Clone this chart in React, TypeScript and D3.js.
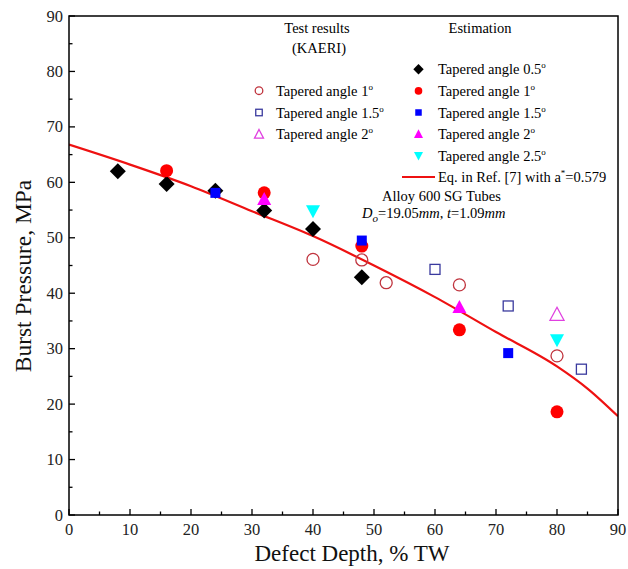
import React from "react";
import * as d3 from "d3";

// ---- Data ----
const xTicks = [0, 10, 20, 30, 40, 50, 60, 70, 80, 90];
const yTicks = [0, 10, 20, 30, 40, 50, 60, 70, 80, 90];

// Estimation (filled)
const estAngle05 = [[8, 62], [16, 59.7], [24, 58.5], [32, 54.9], [40, 51.6], [48, 42.9]];
const estAngle1 = [[16, 62.1], [32, 58.1], [48, 48.5], [64, 33.4], [80, 18.6]];
const estAngle15 = [[24, 58.1], [48, 49.5], [72, 29.2]];
const estAngle2 = [[32, 57], [64, 37.5]];
const estAngle25 = [[40, 54.8], [80, 31.5]];

// Test results (open)
const testAngle1 = [[40, 46.1], [48, 46], [52, 41.9], [64, 41.5], [80, 28.7]];
const testAngle15 = [[60, 44.3], [72, 37.7], [84, 26.3]];
const testAngle2 = [[80, 36.2]];

// Eq. in Ref. [7] curve
const curve = [[0, 66.8], [10, 63.2], [20, 59.3], [30, 54.8], [40, 50.3], [50, 45], [60, 39.3], [70, 33], [80, 26.8], [85, 22.8], [90, 17.8]];

const W = 628, H = 569;
const x = d3.scaleLinear().domain([0, 90]).range([69, 618]);
const y = d3.scaleLinear().domain([0, 90]).range([515, 16]);
const FONT = "'Liberation Serif', 'Times New Roman', serif";

type Kind = "diamond" | "circle" | "square" | "tri" | "triDown";
function marker(kind: Kind, cx: number, cy: number, fill: string, stroke: string, key: string, small = false) {
  const open = fill === "none";
  const sw = open ? 1.3 : 0;
  if (kind === "circle") {
    const r = small ? 3.8 : open ? 6 : 6.5;
    return <circle key={key} cx={cx} cy={cy} r={r} fill={fill} stroke={stroke} strokeWidth={sw} />;
  }
  if (kind === "square") {
    const s = small ? 6.5 : 10;
    return <rect key={key} x={cx - s / 2} y={cy - s / 2} width={s} height={s} fill={fill} stroke={stroke} strokeWidth={sw} />;
  }
  if (kind === "diamond") {
    const h = small ? 5.2 : 8;
    return <path key={key} d={`M${cx},${cy - h}L${cx + h},${cy}L${cx},${cy + h}L${cx - h},${cy}Z`} fill={fill} />;
  }
  const hw = small ? 4.5 : 7;
  const hh = small ? 3.8 : 6;
  if (kind === "tri") {
    return <path key={key} d={`M${cx},${cy - hh - 1}L${cx + hw},${cy + hh}L${cx - hw},${cy + hh}Z`} fill={fill} stroke={stroke} strokeWidth={sw} />;
  }
  return <path key={key} d={`M${cx},${cy + hh + 1}L${cx + hw},${cy - hh}L${cx - hw},${cy - hh}Z`} fill={fill} stroke={stroke} strokeWidth={sw} />;
}

const OPEN_CIRCLE = "#c0343e";
const OPEN_SQUARE = "#3a3a9e";
const OPEN_TRI = "#e040e0";

const series: { data: number[][]; kind: Kind; fill: string; stroke: string }[] = [
  { data: testAngle1, kind: "circle", fill: "none", stroke: OPEN_CIRCLE },
  { data: testAngle15, kind: "square", fill: "none", stroke: OPEN_SQUARE },
  { data: testAngle2, kind: "tri", fill: "none", stroke: OPEN_TRI },
  { data: estAngle05, kind: "diamond", fill: "#000", stroke: "none" },
  { data: estAngle1, kind: "circle", fill: "#ff0000", stroke: "none" },
  { data: estAngle15, kind: "square", fill: "#0000ff", stroke: "none" },
  { data: estAngle2, kind: "tri", fill: "#ff00ff", stroke: "none" },
  { data: estAngle25, kind: "triDown", fill: "#00ffff", stroke: "none" },
];

const testLegend: { label: string; kind: Kind; fill: string; stroke: string }[] = [
  { label: "1", kind: "circle", fill: "none", stroke: OPEN_CIRCLE },
  { label: "1.5", kind: "square", fill: "none", stroke: OPEN_SQUARE },
  { label: "2", kind: "tri", fill: "none", stroke: OPEN_TRI },
];
const estLegend: { label: string; kind: Kind; fill: string; stroke: string }[] = [
  { label: "0.5", kind: "diamond", fill: "#000", stroke: "none" },
  { label: "1", kind: "circle", fill: "#ff0000", stroke: "none" },
  { label: "1.5", kind: "square", fill: "#0000ff", stroke: "none" },
  { label: "2", kind: "tri", fill: "#ff00ff", stroke: "none" },
  { label: "2.5", kind: "triDown", fill: "#00ffff", stroke: "none" },
];

export default function App() {
  const line = d3.line<number[]>().x(d => x(d[0])).y(d => y(d[1])).curve(d3.curveMonotoneX);
  const minorX = d3.range(5, 90, 10);
  const minorY = d3.range(5, 90, 10);
  const LF = 14.5;
  return (
    <svg width={W} height={H} style={{ position: "absolute", left: 0, top: 0, background: "#fff" }} fontFamily={FONT}>
      <rect x={0} y={0} width={W} height={H} fill="#fff" />
      <defs>
        <clipPath id="plot"><rect x={x(0)} y={y(90)} width={x(90) - x(0)} height={y(0) - y(90)} /></clipPath>
      </defs>
      <path d={line(curve) || ""} fill="none" stroke="#ee1111" strokeWidth={2.2} clipPath="url(#plot)" />
      {series.map((s, i) => s.data.map((d, j) => marker(s.kind, x(d[0]), y(d[1]), s.fill, s.stroke, `m${i}-${j}`)))}
      <rect x={x(0)} y={y(90)} width={x(90) - x(0)} height={y(0) - y(90)} fill="none" stroke="#000" strokeWidth={1.5} />
      {xTicks.map(t => <line key={"xt" + t} x1={x(t)} x2={x(t)} y1={y(0)} y2={y(0) - 6} stroke="#000" strokeWidth={1.3} />)}
      {minorX.map(t => <line key={"xm" + t} x1={x(t)} x2={x(t)} y1={y(0)} y2={y(0) - 3.5} stroke="#000" strokeWidth={1.3} />)}
      {yTicks.map(t => <line key={"yt" + t} x1={x(0)} x2={x(0) + 6} y1={y(t)} y2={y(t)} stroke="#000" strokeWidth={1.3} />)}
      {minorY.map(t => <line key={"ym" + t} x1={x(0)} x2={x(0) + 3.5} y1={y(t)} y2={y(t)} stroke="#000" strokeWidth={1.3} />)}
      {xTicks.map(t => <text key={"xl" + t} x={x(t)} y={y(0) + 19.5} fontSize={16.5} textAnchor="middle" fill="#222">{t}</text>)}
      {yTicks.map(t => <text key={"yl" + t} x={x(0) - 6} y={y(t) + 5.5} fontSize={16.5} textAnchor="end" fill="#222">{t}</text>)}
      <text x={352} y={561} fontSize={23} textAnchor="middle" fill="#111">Defect Depth, % TW</text>
      <text transform={`translate(31,${276}) rotate(-90)`} fontSize={23.5} textAnchor="middle" fill="#111">Burst Pressure, MPa</text>
      <text x={317} y={33} fontSize={LF} textAnchor="middle">Test results</text>
      <text x={319} y={53} fontSize={LF} textAnchor="middle">(KAERI)</text>
      <text x={480} y={33} fontSize={LF} textAnchor="middle">Estimation</text>
      {testLegend.map((l, i) => {
        const ly = 90.7 + i * 21.8;
        return (
          <g key={"tl" + i}>
            {marker(l.kind, 259, ly, l.fill, l.stroke, "tlm" + i, true)}
            <text x={276} y={ly + 5} fontSize={LF}>Tapered angle {l.label}<tspan dy={-6} fontSize={9}>o</tspan></text>
          </g>
        );
      })}
      {estLegend.map((l, i) => {
        const ly = 69.3 + i * 21.6;
        return (
          <g key={"el" + i}>
            {marker(l.kind, 418.5, ly, l.fill, l.stroke, "elm" + i, true)}
            <text x={438} y={ly + 5} fontSize={LF}>Tapered angle {l.label}<tspan dy={-6} fontSize={9}>o</tspan></text>
          </g>
        );
      })}
      <line x1={402} x2={435} y1={177} y2={177} stroke="#ee1111" strokeWidth={2} />
      <text x={438} y={182} fontSize={LF}>Eq. in Ref. [7] with a<tspan dy={-6} fontSize={9}>*</tspan><tspan dy={6}>=0.579</tspan></text>
      <text x={382} y={201} fontSize={LF}>Alloy 600 SG Tubes</text>
      <text x={362} y={218} fontSize={LF}>
        <tspan fontStyle="italic">D</tspan><tspan fontStyle="italic" fontSize={11} dy={4}>o</tspan><tspan dy={-4}>=19.05</tspan><tspan fontStyle="italic">mm</tspan>,  <tspan fontStyle="italic">t</tspan>=1.09<tspan fontStyle="italic">mm</tspan>
      </text>
    </svg>
  );
}
